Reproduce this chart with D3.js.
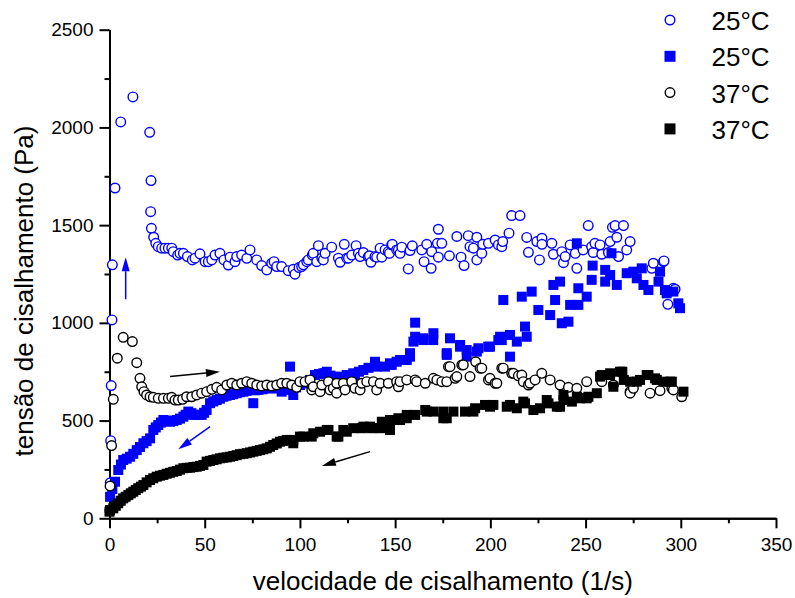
<!DOCTYPE html>
<html>
<head>
<meta charset="utf-8">
<script src="https://cdn.jsdelivr.net/npm/d3@7"></script>
<style>
  body { margin: 0; background: #fff; }
  text { font-family: 'Liberation Sans', Arial, sans-serif; }
</style>
</head>
<body>
<div class="chart"></div>
<script>
const width = 795
const height = 598
const margin = { top: 29.7, right: 19, bottom: 79.7, left: 109.5 }

const xTicks = [0, 50, 100, 150, 200, 250, 300, 350]
const xMinor = [25, 75, 125, 175, 225, 275, 325]
const yTicks = [0, 500, 1000, 1500, 2000, 2500]
const yMinor = [250, 750, 1250, 1750, 2250]

const legendLabels = ['25°C', '25°C', '37°C', '37°C']

// 25°C, ramp up (open blue circles)
const blueUp = [[0.2,39],[0.4,182],[0.6,397],[0.9,679],[1.3,1015],[1.5,1297],[2.9,1690],[5.9,2028],[12.3,2156],[21.1,1975],[21.8,1728],[21.6,1569],[22,1484],[23.2,1438],[24.3,1407],[25.6,1390],[27.4,1382],[29.1,1382],[30.9,1382],[32.7,1382],[33.5,1364],[35.8,1347],[37,1356],[38.8,1356],[40.9,1339],[43.5,1322],[44.9,1331],[47.5,1353],[50.2,1313],[51.9,1313],[53.7,1322],[55.4,1347],[58,1356],[60.1,1322],[62.4,1296],[63.3,1336],[65.9,1313],[66.8,1339],[69.4,1347],[72.1,1330],[73.8,1373],[77.3,1322],[79.9,1293],[82.6,1271],[85.2,1305],[86.4,1313],[87.8,1288],[90.4,1288],[93.9,1267],[96.5,1274],[97.4,1249],[99.5,1283],[100.9,1288],[101.8,1297],[103.6,1313],[104.4,1322],[106.5,1347],[107,1356],[108.8,1313],[109.7,1395],[111.5,1331],[112.3,1322],[113.2,1356],[116.7,1387],[120.2,1331],[121.1,1310],[123.3,1402],[124.6,1331],[125.5,1331],[127.2,1347],[129.5,1395],[130.7,1356],[131.6,1339],[133.3,1360],[135.9,1339],[136.5,1343],[137.3,1310],[139.4,1339],[140.3,1336],[142.1,1382],[143,1336],[144.7,1373],[146.4,1364],[147,1356],[148.2,1399],[148.5,1402],[150.8,1373],[151.7,1373],[152.6,1356],[153.5,1387],[156.9,1276],[157.8,1370],[159,1394],[164,1373],[165.2,1313],[166.6,1402],[168.9,1279],[169.2,1364],[172.2,1407],[172.7,1479],[172.7,1336],[174.5,1407],[178.5,1343],[182.4,1442],[184.6,1336],[186.2,1293],[188.4,1446],[189.3,1390],[191.1,1382],[192.9,1438],[192.9,1322],[195.5,1356],[196,1402],[199,1407],[202.5,1424],[204.2,1399],[206,1390],[206.5,1416],[209.8,1459],[211.2,1549],[215.6,1549],[219.1,1437],[220,1361],[224.4,1416],[225.8,1322],[227.1,1433],[227.1,1402],[232.3,1407],[233.1,1351],[237.5,1364],[238.4,1308],[239.3,1339],[241.9,1399],[244.6,1356],[245.4,1279],[248.7,1373],[251.4,1498],[253.2,1390],[254,1360],[254.9,1407],[257.6,1399],[258.5,1351],[262,1360],[262.9,1416],[264.1,1489],[265.5,1498],[266.4,1438],[267.3,1339],[269.9,1498],[271.6,1373],[273.4,1416],[284.8,1279],[285.6,1305],[290.9,1313],[291.2,1317],[293.2,1095],[296.1,1177],[297,1172]]

// 25°C, ramp down (filled blue squares)
const blueDown = [[0.3,110],[1.5,150],[2.9,187],[4.6,247],[6,275],[7.2,298],[9,305],[10.8,315],[12.5,330],[14.3,349],[16,365],[17.8,384],[19.5,395],[21.3,409],[23,452],[24.3,465],[25.6,477],[27,490],[28.3,503],[30,500],[31.8,494],[33.5,498],[35.3,503],[37,510],[38.8,520],[40,530],[41.4,546],[43,538],[44.9,529],[46.6,530],[48.4,529],[49.7,540],[51,554],[52.8,589],[54.5,598],[56.3,605],[58,612],[59.8,622],[61.5,627],[63.3,631],[65,635],[66.8,640],[68.5,645],[70.3,648],[72,652],[73.8,657],[75.5,589],[76.5,655],[78.2,657],[80.4,660],[82.6,665],[85.2,665],[87.8,665],[90.4,648],[93.1,657],[94.8,776],[96.5,631],[98,670],[100,682],[102,690],[105.3,708],[107.9,733],[110,738],[112.3,742],[113.2,742],[114.1,750],[116,730],[118.4,716],[121,725],[124.6,733],[128,742],[128.9,733],[131,750],[133.3,759],[136,770],[139.4,801],[139.4,785],[140.3,776],[144.7,776],[147.3,785],[147.3,793],[148.2,785],[150.8,801],[152.6,810],[156.1,810],[157.8,845],[157.8,827],[159.6,904],[160.5,1001],[160.5,929],[164.8,921],[164.8,912],[170,912],[170.1,947],[177.1,845],[177.1,836],[178.8,921],[184.1,887],[184.1,878],[187.6,827],[187.6,861],[192.9,853],[193.7,870],[198.9,878],[199.8,878],[204.2,912],[205.1,929],[206,912],[206.8,1117],[210.3,938],[210.3,827],[213.9,904],[216.5,1134],[218.2,981],[219.1,929],[221.7,1160],[225.2,1066],[231.4,1040],[233.1,1194],[234,1117],[236.6,1211],[237.5,998],[241,1006],[241.9,1092],[245.4,1407],[246.2,1092],[246.2,1177],[250.6,1134],[253.2,1220],[253.7,1293],[260.3,1271],[260.3,1211],[262.9,1245],[263.6,1356],[266.4,1194],[271.6,1254],[275.1,1262],[276.9,1228],[279.5,1279],[280.4,1194],[283,1168],[288.3,1211],[289.1,1262],[291.7,1168],[292.6,1151],[296.1,1160],[298.7,1100],[299.6,1075]]

// 37°C, ramp up (open black circles)
const blackUp = [[0.3,165],[1.1,372],[2,609],[4.1,819],[7.2,926],[12,904],[14.3,796],[16,716],[16.9,673],[18.1,648],[19.5,631],[21.3,622],[23,619],[25.6,614],[28.3,614],[30.9,614],[32.7,619],[34.4,605],[36.1,605],[38.4,609],[40.5,622],[43.2,622],[45.8,631],[48.4,640],[51,648],[53.7,660],[56.3,670],[58.9,657],[61.6,682],[64.2,691],[66.8,682],[69.4,691],[72.1,699],[74.7,691],[77.3,682],[79.9,677],[82.6,682],[85.2,677],[87.8,682],[90.4,691],[93.1,691],[95.7,682],[98.3,670],[100,699],[102.7,699],[105.3,708],[106.2,657],[107,673],[110.6,648],[111.5,682],[115,699],[115.8,657],[117.5,665],[119.3,640],[119.3,691],[122.8,691],[123.7,657],[127.2,699],[128.9,665],[131.6,657],[132.5,691],[135.1,699],[138.6,699],[140.3,657],[142.1,691],[146.4,691],[150.8,699],[151.7,673],[152.6,699],[156.1,708],[160.5,708],[161.3,699],[165.8,691],[170.1,716],[171.9,708],[174.5,699],[177.1,699],[178,776],[178.8,776],[181.5,716],[182.4,725],[185,785],[185.8,785],[189.3,725],[192.3,801],[194.6,768],[195.5,768],[199,708],[199.8,716],[202.5,691],[203.4,691],[206,768],[206.8,768],[211.2,742],[212.1,742],[214.7,729],[216.5,733],[217.3,699],[220,682],[220.8,691],[223.5,708],[227,742],[231.4,708],[236.6,682],[241,670],[245.4,665],[250.6,699],[258.5,699],[264.6,682],[273.4,648],[273.4,640],[275.1,665],[283.9,640],[289.1,653],[295.3,665],[296.1,657],[300.5,622]]

// 37°C, ramp down (filled black squares)
const blackDown = [[0,34],[0.3,42],[2,51],[3.3,64],[4.6,77],[5.9,90],[7.2,102],[8.5,110],[9.9,119],[11.2,128],[12.5,136],[13.8,145],[15.1,154],[16.5,162],[17.8,170],[19.5,184],[21.3,196],[23,205],[24.8,213],[26.5,218],[28.3,222],[30,228],[31.8,233],[33.5,238],[35.3,242],[37,249],[38.8,256],[40.5,258],[42.3,259],[44,262],[45.8,264],[47.5,268],[49.3,273],[51,290],[52.8,294],[54.5,298],[56.3,302],[58,307],[59.8,310],[61.6,312],[63.3,315],[65,319],[66.8,323],[68.5,328],[70.3,330],[72.1,333],[73.8,337],[75.5,341],[77.3,345],[79,349],[80.8,353],[82.6,358],[84.3,366],[86,375],[87.8,383],[89.5,392],[91.3,396],[93.1,401],[96.5,401],[96.5,384],[100,418],[101.8,418],[106.2,418],[107,435],[110.6,443],[114.1,452],[115,452],[119.3,418],[120.2,418],[122.8,452],[124.6,443],[128,461],[132.5,461],[133.3,469],[136.8,469],[137.7,461],[142.1,461],[143,494],[147.3,452],[147.3,503],[148.2,503],[151.7,512],[152.6,503],[156.1,529],[156.1,512],[160.5,529],[165.8,554],[166.6,546],[170.1,546],[175.3,512],[175.3,546],[177.1,512],[180.6,546],[186.7,546],[191.1,546],[192,563],[197.2,580],[199.8,571],[201.6,580],[208.6,571],[210.3,580],[213.9,563],[217.3,597],[218.2,588],[222.6,554],[226.1,563],[229.6,605],[230.5,588],[234.9,571],[236.6,571],[238.4,605],[238.4,631],[242.8,597],[245.4,622],[247.1,614],[250.6,614],[251.5,622],[255.9,640],[257.6,725],[258.5,733],[262.8,733],[262.9,742],[264.6,673],[268.1,750],[269.3,750],[270.1,708],[273.4,699],[276.9,699],[278.6,708],[282.1,733],[283,733],[286.5,716],[287.4,708],[290.9,699],[294.4,699],[295.3,699],[301.4,648]]

// direction arrows, in data units: [x0, y0, x1, y1]
const blueArrows = [[8.5, 1121, 8.5, 1336], [52.8, 469, 36.1, 353]]
const blackArrows = [[31.8, 725, 58, 750], [136.8, 341, 111.5, 268]]

const blue = '#0000ff'

const xScale = d3.scaleLinear()
  .domain([0, 350])
  .range([margin.left, width - margin.right])

const yScale = d3.scaleLinear()
  .domain([0, 2500])
  .range([height - margin.bottom, margin.top])

const svg = d3.select('.chart').append('svg')
  .attr('width', width)
  .attr('height', height)

// axes
const xAxis = d3.axisBottom(xScale).tickValues(xTicks).tickFormat(d3.format('d'))
  .tickSize(10).tickPadding(9).tickSizeOuter(0)
const xAxisMinor = d3.axisBottom(xScale).tickValues(xMinor).tickSize(5).tickFormat('').tickSizeOuter(0)
const yAxis = d3.axisLeft(yScale).tickValues(yTicks).tickFormat(d3.format('d'))
  .tickSize(10).tickPadding(6).tickSizeOuter(0)
const yAxisMinor = d3.axisLeft(yScale).tickValues(yMinor).tickSize(5).tickFormat('').tickSizeOuter(0)

function styleAxis(g) {
  g.select('.domain').attr('stroke-width', 2)
  g.selectAll('.tick line').attr('stroke-width', 2)
  g.selectAll('.tick text').style('font-size', '19px').attr('fill', '#000')
}

svg.append('g')
  .attr('transform', `translate(0, ${yScale(0)})`)
  .call(xAxis).call(styleAxis)
svg.append('g')
  .attr('transform', `translate(0, ${yScale(0)})`)
  .call(xAxisMinor).call(styleAxis)
svg.append('g')
  .attr('transform', `translate(${xScale(0)}, 0)`)
  .call(yAxis).call(styleAxis)
svg.append('g')
  .attr('transform', `translate(${xScale(0)}, 0)`)
  .call(yAxisMinor).call(styleAxis)

// axis titles
svg.append('text')
  .attr('x', (xScale(0) + xScale(350)) / 2)
  .attr('y', 590)
  .attr('text-anchor', 'middle')
  .style('font-size', '26px')
  .text('velocidade de cisalhamento (1/s)')

svg.append('text')
  .attr('transform', 'translate(33, 291) rotate(-90)')
  .attr('text-anchor', 'middle')
  .style('font-size', '26px')
  .text('tensão de cisalhamento (Pa)')

// series
const sq = 10
const r = 4.8

function circles(data, color) {
  svg.append('g').selectAll('circle')
    .data(data)
    .join('circle')
    .attr('cx', d => xScale(d[0]))
    .attr('cy', d => yScale(d[1]))
    .attr('r', r)
    .attr('fill', '#fff')
    .attr('stroke', color)
    .attr('stroke-width', 1.4)
}

function squares(data, color) {
  svg.append('g').selectAll('rect')
    .data(data)
    .join('rect')
    .attr('x', d => xScale(d[0]) - sq / 2)
    .attr('y', d => yScale(d[1]) - sq / 2)
    .attr('width', sq)
    .attr('height', sq)
    .attr('fill', color)
}

circles(blueUp, blue)
squares(blueDown, blue)
circles(blackUp, '#000')
squares(blackDown, '#000')

// arrows
function arrows(data, color) {
  const g = svg.append('g')
  data.forEach(a => {
    const x0 = xScale(a[0]), y0 = yScale(a[1])
    const x1 = xScale(a[2]), y1 = yScale(a[3])
    const ang = Math.atan2(y1 - y0, x1 - x0)
    const hl = 14, hw = 4
    const bx = x1 - hl * Math.cos(ang), by = y1 - hl * Math.sin(ang)
    g.append('line')
      .attr('x1', x0).attr('y1', y0)
      .attr('x2', bx).attr('y2', by)
      .attr('stroke', color)
      .attr('stroke-width', 1.5)
    g.append('path')
      .attr('d', `M${x1},${y1}L${bx - hw * Math.sin(ang)},${by + hw * Math.cos(ang)}L${bx + hw * Math.sin(ang)},${by - hw * Math.cos(ang)}Z`)
      .attr('fill', color)
  })
}
arrows(blueArrows, blue)
arrows(blackArrows, '#000')

// legend
const legend = svg.append('g')
  .attr('transform', 'translate(670, 20)')

const legendRow = legend.selectAll('g')
  .data(legendLabels)
  .join('g')
  .attr('transform', (d, i) => `translate(0, ${i * 36.3})`)

legendRow.each(function(d, i) {
  const row = d3.select(this)
  const color = i < 2 ? blue : '#000'
  if (i % 2 === 0) {
    row.append('circle')
      .attr('r', r)
      .attr('fill', '#fff')
      .attr('stroke', color)
      .attr('stroke-width', 1.4)
  } else {
    row.append('rect')
      .attr('x', -5.5).attr('y', -5.5)
      .attr('width', 11).attr('height', 11)
      .attr('fill', color)
  }
  row.append('text')
    .attr('x', 41.5)
    .attr('y', 10)
    .style('font-size', '26px')
    .text(d)
})
</script>
</body>
</html>
